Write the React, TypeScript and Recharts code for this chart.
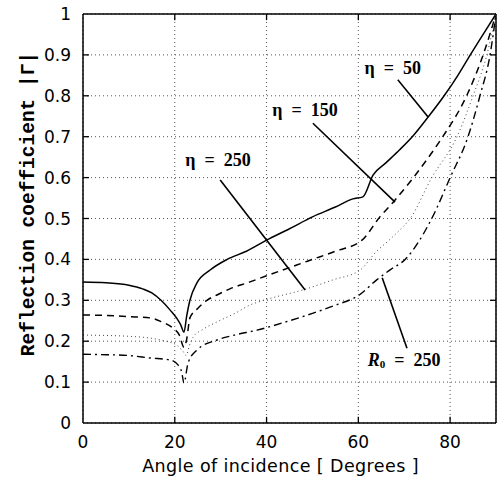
import React from 'react'
import {
  LineChart,
  Line,
  XAxis,
  YAxis,
  CartesianGrid,
  ReferenceLine,
  ReferenceDot,
} from 'recharts'

// |Γ| vs angle of incidence
const eta50 = [
  [0, 0.345], [5, 0.343], [10, 0.337], [13, 0.328], [15, 0.318], [17, 0.3],
  [19, 0.276], [20.5, 0.255], [21.3, 0.24], [22, 0.222], [22.6, 0.262],
  [23.3, 0.3], [24.8, 0.342], [27.7, 0.374], [31.4, 0.4], [35.6, 0.42],
  [40, 0.447], [45, 0.475], [50, 0.504], [55, 0.528], [58.8, 0.548],
  [61, 0.553], [63.2, 0.606], [66, 0.636], [69, 0.668], [72, 0.703],
  [75, 0.745], [78.7, 0.8], [81.7, 0.85], [84.4, 0.9], [87.3, 0.952], [90, 1.0],
]
const eta150 = [
  [0, 0.264], [5, 0.263], [10, 0.26], [14.6, 0.257], [17, 0.248],
  [19.6, 0.232], [21, 0.215], [22, 0.185], [22.6, 0.205], [23.3, 0.257],
  [25, 0.28], [27, 0.3], [29.2, 0.313], [32, 0.328], [36.4, 0.345],
  [40, 0.36], [45, 0.38], [50, 0.4], [55, 0.42], [60.8, 0.447],
  [64.7, 0.504], [67.6, 0.54], [72, 0.6], [75, 0.645], [78.4, 0.7],
  [83.6, 0.8], [87.2, 0.9], [90, 1.0],
]
const eta250 = [
  [0, 0.215], [5, 0.214], [10, 0.212], [15, 0.207], [18, 0.2], [20.5, 0.19],
  [21.8, 0.175], [22.5, 0.165], [23.2, 0.19], [24, 0.21], [26, 0.228],
  [29.2, 0.247], [33.6, 0.271], [36.3, 0.288], [40, 0.302], [47.8, 0.325],
  [54.5, 0.35], [60.4, 0.374], [64, 0.42], [66.7, 0.447], [68.4, 0.465],
  [71.3, 0.5], [76, 0.6], [81.5, 0.7], [85, 0.8], [88, 0.9], [90, 1.0],
]
const r0250 = [
  [0, 0.168], [5, 0.167], [10, 0.165], [14.6, 0.159], [19, 0.154],
  [20.7, 0.142], [21.5, 0.125], [22, 0.098], [22.9, 0.147], [24.8, 0.178],
  [29.2, 0.203], [33, 0.215], [37.9, 0.227], [45, 0.25], [50, 0.268],
  [55, 0.288], [60.2, 0.313], [64, 0.35], [67, 0.375], [70.2, 0.4],
  [76, 0.5], [80, 0.6], [83.9, 0.7], [86.5, 0.8], [88.7, 0.9], [90, 1.0],
]

const xTicks = [0, 20, 40, 60, 80]
const yTicks = [0, 0.1, 0.2, 0.3, 0.4, 0.5, 0.6, 0.7, 0.8, 0.9, 1]
const innerXTicks = [20, 40, 60, 80]
const innerYTicks = [0.1, 0.2, 0.3, 0.4, 0.5, 0.6, 0.7, 0.8, 0.9]

// callouts: [x1, y1, x2, y2] leader lines and label anchors in data units
const leaders = [
  [68.6, 0.839, 75.2, 0.748],
  [50.1, 0.733, 68.0, 0.54],
  [29.9, 0.594, 48.4, 0.325],
  [65.2, 0.355, 70.6, 0.183],
]
const callouts = [
  { x: 67.5, y: 0.868, text: 'η  =  50' },
  { x: 48.4, y: 0.765, text: 'η  =  150' },
  { x: 29.4, y: 0.643, text: 'η  =  250' },
  { x: 70.0, y: 0.154, text: 'R0' },
]

const toRows = (pts: number[][]) => pts.map(([x, y]) => ({ x, y }))

const sans = '"DejaVu Sans", Arial, sans-serif'
const serif = '"Liberation Serif", "Times New Roman", serif'
const mono = '"Liberation Mono", "Courier New", monospace'

const fmtY = (v: number) => (v === 0 ? '0' : v === 1 ? '1' : v.toFixed(1))

// inward tick marks, in data units (about 6px long)
const TX = 1.3
const TY = 0.015

function CalloutText({ viewBox, text }: any) {
  const cx = viewBox.x + viewBox.width / 2
  const cy = viewBox.y + viewBox.height / 2
  const common = {
    x: cx, y: cy, textAnchor: 'middle' as const, dominantBaseline: 'central' as const,
    fontFamily: serif, fontSize: 18, fontWeight: 'bold', fill: '#000',
    style: { whiteSpace: 'pre' as const },
  }
  if (text === 'R0') {
    return (
      <text {...common}>
        <tspan fontStyle="italic">R</tspan>
        <tspan fontSize={11} dy={4}>0</tspan>
        <tspan dy={-4}>{'  =  250'}</tspan>
      </text>
    )
  }
  return <text {...common}>{text}</text>
}

function YTitle() {
  return (
    <text transform="translate(29, 204) rotate(-90)" textAnchor="middle"
      dominantBaseline="central" fontFamily={mono} fontSize={19.5}
      fontWeight="bold" fill="#000">
      Reflection coefficient |Γ|
    </text>
  )
}

function XTitle({ viewBox }: any) {
  return (
    <text x={viewBox.x + viewBox.width / 2 - 9} y={viewBox.y + viewBox.height - 6}
      textAnchor="middle" fontFamily={sans} fontSize={17.5} letterSpacing={0.4}
      fill="#000" style={{ whiteSpace: 'pre' }}>
      Angle of incidence [ Degrees ]
    </text>
  )
}

export default function App() {
  return (
    <div style={{ position: 'absolute', left: 0, top: 0, background: '#fff' }}>
      <LineChart width={501} height={478}
        margin={{ top: 14, right: 5, left: 0, bottom: 0 }}>
        <CartesianGrid stroke="#555" strokeDasharray="1 3" />
        <XAxis dataKey="x" type="number" domain={[0, 90]} ticks={xTicks}
          allowDataOverflow height={55} tickLine={false} tickMargin={7}
          axisLine={{ stroke: '#000', strokeWidth: 1.5 }}
          tick={{ fill: '#000', fontSize: 17, fontFamily: sans }}
          label={{ content: (p: any) => <XTitle {...p} /> }} />
        <YAxis type="number" domain={[0, 1]} ticks={yTicks} width={83}
          tickLine={false} tickMargin={6} tickFormatter={fmtY}
          axisLine={{ stroke: '#000', strokeWidth: 1.5 }}
          tick={{ fill: '#000', fontSize: 17, fontFamily: sans }}
          label={{ content: <YTitle /> }} />

        {/* frame top and right */}
        <ReferenceLine y={1} stroke="#000" strokeWidth={1.5} />
        <ReferenceLine x={90} stroke="#000" strokeWidth={1.5} />
        {innerXTicks.map((t) => (
          <ReferenceLine key={`xb-${t}`} segment={[{ x: t, y: 0 }, { x: t, y: TY }]}
            stroke="#000" strokeWidth={1.3} />
        ))}
        {innerXTicks.map((t) => (
          <ReferenceLine key={`xt-${t}`} segment={[{ x: t, y: 1 }, { x: t, y: 1 - TY }]}
            stroke="#000" strokeWidth={1.3} />
        ))}
        {innerYTicks.map((t) => (
          <ReferenceLine key={`yl-${t}`} segment={[{ x: 0, y: t }, { x: TX, y: t }]}
            stroke="#000" strokeWidth={1.3} />
        ))}
        {innerYTicks.map((t) => (
          <ReferenceLine key={`yr-${t}`} segment={[{ x: 90, y: t }, { x: 90 - TX, y: t }]}
            stroke="#000" strokeWidth={1.3} />
        ))}

        <Line data={toRows(eta50)} dataKey="y" type="monotone" stroke="#000"
          strokeWidth={1.5} dot={false} isAnimationActive={false} />
        <Line data={toRows(eta150)} dataKey="y" type="monotone" stroke="#000"
          strokeWidth={1.5} strokeDasharray="7 5" dot={false} isAnimationActive={false} />
        <Line data={toRows(eta250)} dataKey="y" type="monotone" stroke="#444"
          strokeWidth={1} strokeDasharray="1 3" dot={false} isAnimationActive={false} />
        <Line data={toRows(r0250)} dataKey="y" type="monotone" stroke="#000"
          strokeWidth={1.4} strokeDasharray="8 4 2 4" dot={false} isAnimationActive={false} />

        {leaders.map(([x1, y1, x2, y2], i) => (
          <ReferenceLine key={`ld-${i}`} segment={[{ x: x1, y: y1 }, { x: x2, y: y2 }]}
            stroke="#000" strokeWidth={1.6} />
        ))}
        {callouts.map((c, i) => (
          <ReferenceDot key={`co-${i}`} x={c.x} y={c.y} r={1} fill="none" stroke="none"
            label={{ content: (p: any) => <CalloutText {...p} text={c.text} /> }} />
        ))}
      </LineChart>
    </div>
  )
}
